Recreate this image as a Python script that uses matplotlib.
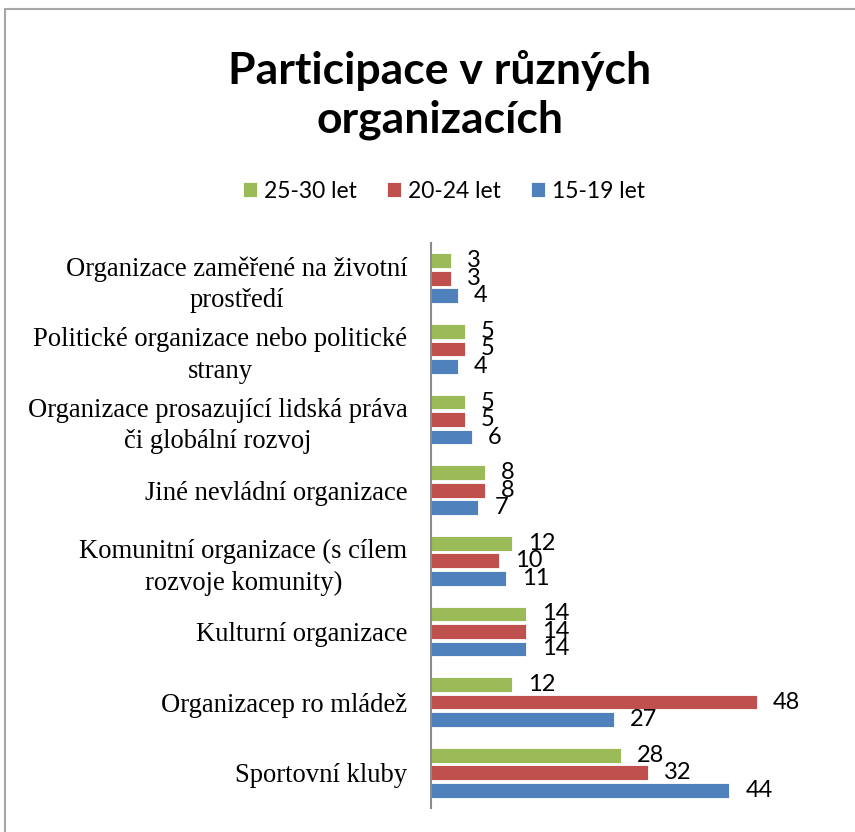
import matplotlib
matplotlib.use("Agg")
import matplotlib.pyplot as plt
import numpy as np
from matplotlib.patches import Rectangle

# kategorie odspodu nahoru (jako v Excelu)
categories = [
    "Sportovní kluby",
    "Organizacep ro mládež",
    "Kulturní organizace",
    "Komunitní organizace (s cílem\nrozvoje komunity)",
    "Jiné nevládní organizace",
    "Organizace prosazující lidská práva\nči globální rozvoj",
    "Politické organizace nebo politické\nstrany",
    "Organizace zaměřené na životní\nprostředí",
]
v_15_19 = [44, 27, 14, 11, 7, 6, 4, 4]
v_20_24 = [32, 48, 14, 10, 8, 5, 5, 3]
v_25_30 = [28, 12, 14, 12, 8, 5, 5, 3]
series = ["15-19 let", "20-24 let", "25-30 let"]

colors = ["#4F81BD", "#C0504D", "#9BBB59"]
SANS = ["Lato", "DejaVu Sans"]
SERIF = ["Liberation Serif", "DejaVu Serif"]

fig = plt.figure(figsize=(8.55, 8.32), dpi=100)
ax = fig.add_axes([431 / 855, 24 / 832, (838 - 431) / 855, (808 - 243) / 832])

y = np.arange(len(categories))
step = 0.248
bars = []
for i, (vals, c, name) in enumerate(zip([v_15_19, v_20_24, v_25_30], colors, series)):
    b = ax.barh(y + (i - 1) * step, vals, height=0.21, color=c,
                edgecolor="white", linewidth=0.6, label=name)
    # popisky se v originále u malých hodnot překrývají — ponecháno
    ax.bar_label(b, padding=11.5, fontsize=17, family=SANS)
    bars.append(b)

ax.set_xlim(0, 60)
ax.set_ylim(-0.5, len(categories) - 0.5)
ax.set_yticks(y)
ax.set_yticklabels(categories, fontsize=19.2, family=SERIF, linespacing=1.35)
for t in ax.get_yticklabels():
    t.set_multialignment("center")
ax.tick_params(axis="y", length=0, pad=17)
ax.set_xticks([])
for s in ("top", "right", "bottom"):
    ax.spines[s].set_visible(False)
ax.spines["left"].set_color("#8c8c8c")
ax.spines["left"].set_linewidth(1.5)

fig.text(440 / 855, 1 - 95 / 832, "Participace v různých\norganizacích",
         ha="center", va="center", fontsize=32, fontweight="bold",
         family=SANS, linespacing=1.28)

fig.legend(handles=bars[::-1], labels=series[::-1], loc="center",
           bbox_to_anchor=(444 / 855, 1 - 191 / 832), ncol=3, frameon=False,
           prop={"family": SANS, "size": 16.5}, handlelength=0.62,
           handleheight=0.62, handletextpad=0.32, columnspacing=1.3)

# rámeček grafu (pravá a spodní hrana mimo obrázek)
fig.patches.append(Rectangle((5 / 855, -0.05), 1.0, 1 - 9 / 832 + 0.05,
                             transform=fig.transFigure, fill=False,
                             edgecolor="#a6a6a6", linewidth=1.5))

fig.savefig("out.png", dpi=100)
